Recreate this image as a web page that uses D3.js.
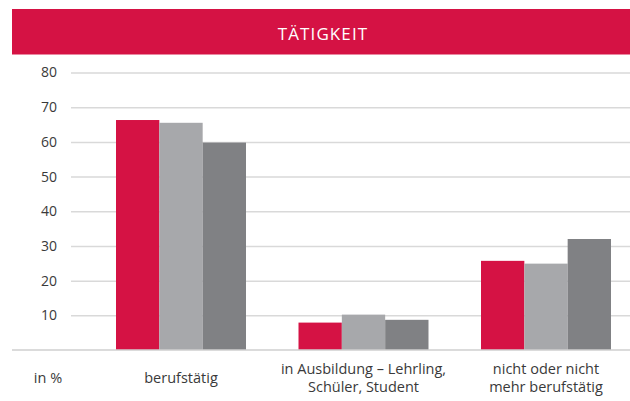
<!DOCTYPE html>
<html>
<head>
<meta charset="utf-8">
<script src="https://cdn.jsdelivr.net/npm/d3@7"></script>
<style>
  html, body { margin: 0; padding: 0; background: #fff; }
  svg { display: block; }
  text { font-family: "Open Sans", sans-serif; }
</style>
</head>
<body>
<svg id="chart" width="630" height="401"></svg>
<script>
const title = "TÄTIGKEIT";
const unitLabel = "in %";
const categories = ["berufstätig", "in Ausbildung – Lehrling,\nSchüler, Student", "nicht oder nicht\nmehr berufstätig"];
const seriesNames = ["A", "B", "C"];
const seriesA = [66.3, 7.9, 25.7];
const seriesB = [65.5, 10.2, 24.9];
const seriesC = [59.8, 8.7, 32.0];
const colors = ["#d51244", "#a7a8ab", "#808184"];
const yTicks = [10, 20, 30, 40, 50, 60, 70, 80];

const series = [seriesA, seriesB, seriesC];
const svg = d3.select("#chart");

// Title banner
svg.append("rect").attr("x", 12).attr("y", 9).attr("width", 618).attr("height", 45.5).attr("fill", "#d51244");
svg.append("text").attr("x", 323).attr("y", 40).attr("text-anchor", "middle")
  .attr("fill", "#fff").attr("font-size", 17).attr("letter-spacing", 1.1).text(title);

const y = d3.scaleLinear().domain([0, 80]).range([350, 72.5]);
const x = d3.scaleBand().domain(categories).range([63.5, 663.5]).padding(0.2877);
const xs = d3.scaleBand().domain(seriesNames).range([0, x.bandwidth()]);

// Gridlines + labels via axis
const yAxis = d3.axisLeft(y).tickValues(yTicks).tickSize(0).tickPadding(14);
const gy = svg.append("g").attr("transform", "translate(71,0)").call(yAxis);
gy.select(".domain").remove();
gy.selectAll(".tick text").attr("font-size", 14).attr("fill", "#3a3a3a").attr("font-family", "Open Sans, sans-serif");
gy.selectAll(".tick").append("line").attr("x1", 0).attr("x2", 560).attr("stroke", "#d9d9d9").attr("stroke-width", 1.5);

// Bars
const groups = svg.append("g").selectAll("g").data(categories).join("g")
  .attr("transform", c => `translate(${x(c)},0)`);
groups.selectAll("rect").data((c, i) => series.map((s, j) => ({ key: seriesNames[j], v: s[i], col: colors[j] })))
  .join("rect")
  .attr("x", d => xs(d.key))
  .attr("width", xs.bandwidth())
  .attr("y", d => y(d.v))
  .attr("height", d => y(0) - y(d.v))
  .attr("fill", d => d.col);

// Baseline
svg.append("line").attr("x1", 12).attr("x2", 630).attr("y1", y(0)).attr("y2", y(0))
  .attr("stroke", "#cfcfcf").attr("stroke-width", 1.5);

// Category labels (one text element per line)
const labY = 383;
const lineH = 17.6;
const labFont = "Lato, sans-serif";
categories.forEach(c => {
  const lines = c.split("\n");
  const cx = x(c) + x.bandwidth() / 2;
  const startY = labY - (lines.length - 1) * lineH / 2;
  lines.forEach((l, i) => svg.append("text").attr("text-anchor", "middle")
    .attr("font-family", labFont).attr("font-size", 14.5).attr("fill", "#3a3a3a")
    .attr("x", cx).attr("y", startY + i * lineH).text(l));
});
svg.append("text").attr("x", 48).attr("y", labY).attr("text-anchor", "middle")
  .attr("font-family", labFont).attr("font-size", 14.5).attr("fill", "#3a3a3a").text(unitLabel);
</script>
</body>
</html>
